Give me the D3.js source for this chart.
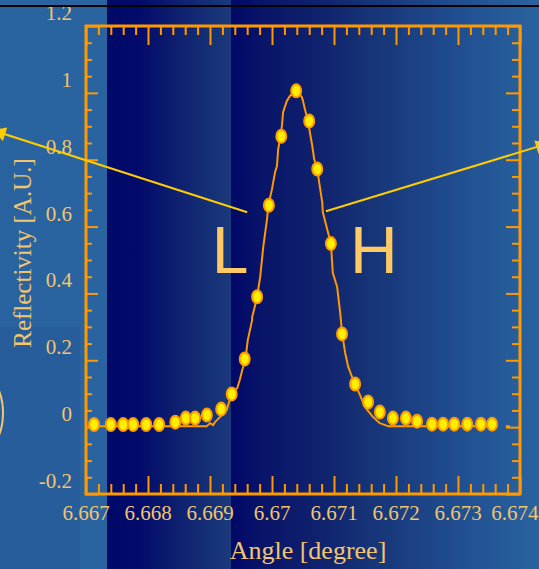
<!DOCTYPE html>
<html>
<head>
<meta charset="utf-8">
<script src="https://cdn.jsdelivr.net/npm/d3@7"></script>
<style>
  html, body { margin: 0; padding: 0; background: #2963a0; overflow: hidden; }
  svg { display: block; }
</style>
</head>
<body>
<svg id="chart" width="539" height="569"></svg>
<script>
//

const xTicks = [6.667, 6.668, 6.669, 6.670, 6.671, 6.672, 6.673, 6.674]
const xTickLabels = ['6.667', '6.668', '6.669', '6.67', '6.671', '6.672', '6.673', '6.674']
const yTicks = [-0.2, 0, 0.2, 0.4, 0.6, 0.8, 1, 1.2]
const yTickLabels = ['-0.2', '0', '0.2', '0.4', '0.6', '0.8', '1', '1.2']

// measured points (dots)
const dotAngles = [6.66713, 6.66740, 6.66760, 6.66776, 6.66797, 6.66818, 6.66844, 6.66861,
  6.66876, 6.66895, 6.66918, 6.66935, 6.66956, 6.66976, 6.66995, 6.67015, 6.67039, 6.67060,
  6.67073, 6.67095, 6.67113, 6.67134, 6.67155, 6.67174, 6.67195, 6.67216, 6.67234, 6.67258,
  6.67276, 6.67294, 6.67315, 6.67337, 6.67355]
const dotReflectivity = [0.008, 0.008, 0.008, 0.008, 0.008, 0.008, 0.015, 0.027,
  0.027, 0.036, 0.054, 0.099, 0.204, 0.39, 0.664, 0.87, 1.006, 0.916,
  0.772, 0.549, 0.279, 0.129, 0.075, 0.045, 0.027, 0.027, 0.018, 0.009,
  0.009, 0.009, 0.009, 0.009, 0.009]

// continuous trace (null = gap)
const lineAngles = [6.66703, 6.66895, 6.66900, 6.66905, 6.66908, 6.66916, 6.66927, 6.66935,
  6.66944, 6.66948, 6.66952, 6.66957, 6.66961, 6.66968, 6.66968, 6.66969, 6.66976, 6.66981,
  6.66986, 6.66992, 6.66994, 6.67000, 6.67002, 6.67005, 6.67008, 6.67010, 6.67013, 6.67016,
  6.67018, 6.67024, 6.67029, 6.67039, 6.67048, 6.67050, 6.67053, 6.67058, 6.67061, 6.67065,
  6.67068, 6.67073, 6.67077, 6.67081, 6.67082, 6.67089, 6.67095, 6.67098, 6.67105, 6.67110,
  6.67113, 6.67118, 6.67123, 6.67131, 6.67142, 6.67150, 6.67163, 6.67174, 6.67187, 6.67363,
  6.67370, 6.67377, 6.67384]
const lineReflectivity = [0.003, 0.003, 0.012, 0.006, 0.015, 0.030, 0.051, 0.102,
  0.117, 0.141, 0.171, 0.201, 0.261, 0.321, 0.330, 0.336, 0.390, 0.450,
  0.541, 0.622, 0.664, 0.712, 0.733, 0.763, 0.781, 0.832, 0.862, 0.901,
  0.943, 0.976, 0.991, 1.006, 0.988, 0.976, 0.952, 0.916, 0.883, 0.841,
  0.802, 0.772, 0.721, 0.673, 0.643, 0.592, 0.550, 0.462, 0.420, 0.342,
  0.282, 0.222, 0.180, 0.141, 0.096, 0.060, 0.030, 0.012, 0.003, 0.003,
  null, 0.003, 0.003]

// annotations: [fromAngle, fromRefl, toAngle, toRefl]
const arrowLeft = [6.66960, 0.643, 6.66548, 0.889]
const arrowRight = [6.67087, 0.646, 6.67448, 0.850]
const letterLabels = ['L', 'H']
const letterAngles = [6.66903, 6.67126]
const letterReflectivity = [0.462, 0.462]

//

const orange = '#ff9900'
const textColor = '#f2c56e'
const serif = '"Liberation Serif", "Times New Roman", serif'
const width = 539

const svg = d3.select('#chart')

const x = d3.scaleLinear().domain([6.667, 6.674]).range([86, 520])
const y = d3.scaleLinear().domain([-0.2, 1.2]).range([494, 26])

// background bands
const defs = svg.append('defs')
const addGradient = (id, stops) => {
  const g = defs.append('linearGradient').attr('id', id)
    .attr('x1', 0).attr('x2', 1).attr('y1', 0).attr('y2', 0)
  stops.forEach(([o, c]) => g.append('stop').attr('offset', o).attr('stop-color', c))
}
addGradient('band1', [[0, '#000868'], [0.25, '#020a6a'], [0.6, '#0f2270'], [1, '#1a3a7b']])
addGradient('band2', [[0, '#000868'], [0.1, '#081468'], [0.3, '#10236e'], [0.45, '#163477'],
  [0.7, '#1f4b8e'], [1, '#2964a0']])

svg.append('rect').attr('width', width).attr('height', 569).attr('fill', '#2963a0')
svg.append('rect').attr('x', 0).attr('y', 327).attr('width', 80).attr('height', 242).attr('fill', '#285d9b')
svg.append('rect').attr('x', 107).attr('y', 0).attr('width', 124).attr('height', 569).attr('fill', 'url(#band1)')
svg.append('rect').attr('x', 231).attr('y', 0).attr('width', 308).attr('height', 569).attr('fill', 'url(#band2)')

svg.append('ellipse')
  .attr('cx', -18).attr('cy', 413).attr('rx', 21).attr('ry', 38)
  .attr('fill', 'none').attr('stroke', textColor).attr('stroke-width', 2)

//

const xMinor = d3.range(0, 36).map((i) => 6.667 + i * 0.0002)
  .filter((v) => !xTicks.some((t) => Math.abs(t - v) < 1e-7))
const yMinor = d3.range(0, 29).map((i) => -0.2 + i * 0.05)
  .filter((v) => !yTicks.some((t) => Math.abs(t - v) < 1e-7))

const addTicks = (axis, values, size, transform) => {
  svg.append('g')
    .attr('transform', transform)
    .call(axis.tickValues(values).tickSize(size).tickFormat(''))
    .call((g) => g.select('.domain').remove())
    .selectAll('line')
      .attr('stroke', orange)
      .attr('stroke-width', 2)
}

addTicks(d3.axisBottom(x), xTicks, 19, 'translate(0,26)')
addTicks(d3.axisBottom(x), xMinor, 9, 'translate(0,26)')
addTicks(d3.axisTop(x), xTicks, 18, 'translate(0,494)')
addTicks(d3.axisTop(x), xMinor, 10, 'translate(0,494)')
addTicks(d3.axisRight(y), yTicks, 12, 'translate(86,0)')
addTicks(d3.axisRight(y), yMinor, 6, 'translate(86,0)')
addTicks(d3.axisLeft(y), yTicks, 14, 'translate(520,0)')
addTicks(d3.axisLeft(y), yMinor, 8, 'translate(520,0)')

svg.append('rect')
  .attr('x', x(6.667)).attr('y', y(1.2))
  .attr('width', x(6.674) - x(6.667)).attr('height', y(-0.2) - y(1.2))
  .attr('fill', 'none').attr('stroke', orange).attr('stroke-width', 3)

// tick labels
svg.append('g')
  .selectAll('text')
  .data(xTicks)
  .join('text')
    .attr('x', (d) => x(d))
    .attr('y', 520)
    .attr('text-anchor', 'middle')
    .attr('font-family', serif)
    .attr('font-size', 21)
    .attr('fill', textColor)
    .text((d, i) => xTickLabels[i])
    .each(function (d) {
      // keep the last label inside the window
      const half = this.getComputedTextLength() / 2
      if (x(d) + half > width) d3.select(this).attr('x', width - half - 0.5)
    })

svg.append('g')
  .selectAll('text')
  .data(yTicks)
  .join('text')
    .attr('x', 72)
    .attr('y', (d) => y(d) - 6)
    .attr('text-anchor', 'end')
    .attr('font-family', serif)
    .attr('font-size', 21)
    .attr('fill', textColor)
    .text((d, i) => yTickLabels[i])

svg.append('text')
  .attr('x', 308).attr('y', 559)
  .attr('text-anchor', 'middle')
  .attr('font-family', serif)
  .attr('font-size', 26)
  .attr('fill', textColor)
  .text('Angle [degree]')

svg.append('text')
  .attr('transform', 'translate(31,253) rotate(-90)')
  .attr('text-anchor', 'middle')
  .attr('font-family', serif)
  .attr('font-size', 25)
  .attr('fill', textColor)
  .text('Reflectivity [A.U.]')

// black rule at top
svg.append('rect').attr('x', 0).attr('y', 5).attr('width', width).attr('height', 2).attr('fill', '#000')

// arrows
defs.append('marker')
  .attr('id', 'arrowhead')
  .attr('viewBox', '0 0 10 10')
  .attr('refX', 10).attr('refY', 5)
  .attr('markerWidth', 16).attr('markerHeight', 14)
  .attr('markerUnits', 'userSpaceOnUse')
  .attr('orient', 'auto')
  .append('path')
    .attr('d', 'M0,0 L10,5 L0,10 z')
    .attr('fill', '#ffcc00')

svg.append('g')
  .selectAll('line')
  .data([arrowLeft, arrowRight])
  .join('line')
    .attr('x1', (d) => x(d[0])).attr('y1', (d) => y(d[1]))
    .attr('x2', (d) => x(d[2])).attr('y2', (d) => y(d[3]))
    .attr('stroke', '#ffcc00')
    .attr('stroke-width', 2)
    .attr('marker-end', 'url(#arrowhead)')

svg.append('g')
  .selectAll('text')
  .data(letterLabels)
  .join('text')
    .attr('x', (d, i) => x(letterAngles[i]))
    .attr('y', (d, i) => y(letterReflectivity[i]))
    .attr('font-family', '"Liberation Sans", Arial, sans-serif')
    .attr('font-size', 66)
    .attr('fill', '#ffca64')
    .text((d) => d)

// trace + dots
const lineData = lineAngles.map((a, i) => ({a, r: lineReflectivity[i]}))
svg.append('path')
  .datum(lineData)
  .attr('fill', 'none')
  .attr('stroke', orange)
  .attr('stroke-width', 2)
  .attr('stroke-linejoin', 'round')
  .attr('d', d3.line()
    .defined((d) => d.r !== null)
    .x((d) => x(d.a))
    .y((d) => y(d.r)))

svg.append('g')
  .selectAll('ellipse')
  .data(dotAngles)
  .join('ellipse')
    .attr('cx', (d) => x(d))
    .attr('cy', (d, i) => y(dotReflectivity[i]))
    .attr('rx', 5)
    .attr('ry', 6.5)
    .attr('fill', '#ffee00')
    .attr('stroke', orange)
    .attr('stroke-width', 2)
</script>
</body>
</html>
